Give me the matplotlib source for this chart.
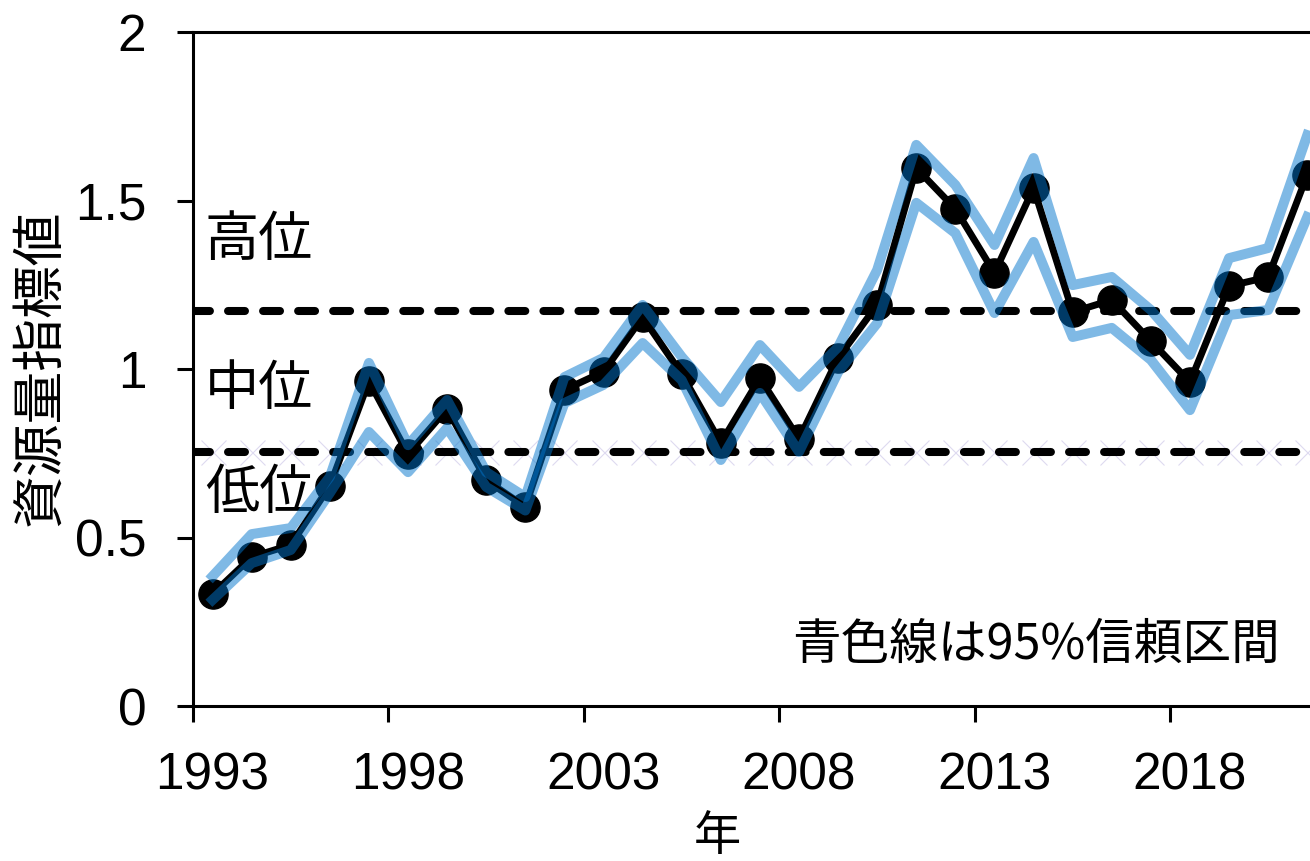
import matplotlib
matplotlib.use("Agg")
import matplotlib.pyplot as plt
from matplotlib.ticker import FixedLocator, NullFormatter

years = list(range(1993, 2022))
index = [0.332, 0.442, 0.478, 0.653, 0.964, 0.748, 0.882, 0.670, 0.591, 0.938,
         0.992, 1.154, 0.985, 0.780, 0.973, 0.792, 1.033, 1.190, 1.596, 1.475,
         1.285, 1.537, 1.169, 1.205, 1.083, 0.961, 1.246, 1.273, 1.576]
upper = [0.385, 0.510, 0.528, 0.680, 1.018, 0.774, 0.908, 0.694, 0.620, 0.976,
         1.033, 1.190, 1.036, 0.902, 1.071, 0.947, 1.065, 1.294, 1.665, 1.546,
         1.368, 1.626, 1.249, 1.273, 1.175, 1.042, 1.329, 1.359, 1.694]
lower = [0.315, 0.424, 0.463, 0.632, 0.813, 0.694, 0.825, 0.650, 0.580, 0.899,
         0.953, 1.077, 0.967, 0.730, 0.929, 0.754, 0.991, 1.136, 1.493, 1.403,
         1.166, 1.377, 1.095, 1.122, 1.027, 0.878, 1.160, 1.175, 1.451]
high_threshold = 1.172
low_threshold = 0.754
ytick_vals = [0, 0.5, 1, 1.5, 2]
ytick_labels = ["0", "0.5", "1", "1.5", "2"]
label_years = [1993, 1998, 2003, 2008, 2013, 2018]

W, H = 1310, 861
fig = plt.figure(figsize=(W / 100, H / 100), dpi=100)
ax = fig.add_axes([193 / W, (H - 706) / H, 1 - 193 / W, 674 / H])

x = list(range(len(years)))
ax.set_xlim(-0.5, 28.07)
ax.set_ylim(0, 2)

# threshold lines
for yv in (high_threshold, low_threshold):
    ax.plot([-0.5, 40], [yv, yv], color="black", lw=5.8, dashes=(2.1, 2.25),
            dash_capstyle="round", zorder=2, clip_on=True)
ax.plot(x, [low_threshold] * len(x), linestyle="none", marker="x", ms=18,
        mew=0.8, color="#c9c2e6", alpha=0.6, zorder=1)

ax.plot(x, index, color="black", lw=5.0, marker="o", ms=21, zorder=3)
ax.plot(x, upper, color="#0074CC", alpha=0.5, lw=7.2, zorder=4)
ax.plot(x, lower, color="#0074CC", alpha=0.5, lw=7.2, zorder=4)

num_font = ["Liberation Sans", "Noto Sans CJK JP"]
jp_font = ["Noto Sans CJK JP", "Liberation Sans"]

# spines
for s in ("left", "bottom", "top"):
    ax.spines[s].set_linewidth(2.2)
ax.spines["right"].set_visible(False)

ax.set_yticks(ytick_vals)
ax.set_yticklabels(ytick_labels, fontfamily=num_font, fontsize=37)
ax.tick_params(axis="y", direction="out", length=11.5, width=2.2, pad=22)

ax.xaxis.set_major_locator(FixedLocator([v - 0.5 for v in range(0, 30, 5)]))
ax.xaxis.set_major_formatter(NullFormatter())
ax.set_xticks([y - 1993 for y in label_years], minor=True)
ax.set_xticklabels([str(y) for y in label_years], minor=True,
                   fontfamily=num_font, fontsize=37)
ax.tick_params(axis="x", which="major", direction="out", length=11.5, width=2.2)
ax.tick_params(axis="x", which="minor", length=0, pad=33)

ax.text(-0.2, 1.38, "高位", fontfamily=jp_font, fontsize=39, va="center", ha="left")
ax.text(-0.2, 0.94, "中位", fontfamily=jp_font, fontsize=39, va="center", ha="left")
ax.text(-0.2, 0.63, "低位", fontfamily=jp_font, fontsize=39, va="center", ha="left")

fig.text(1280 / W, 1 - 645 / H, "青色線は95%信頼区間", fontfamily=jp_font,
         fontsize=35, va="center", ha="right")
fig.text(40 / W, 1 - 368 / H, "資源量指標値", fontfamily=jp_font, fontsize=38,
         rotation=90, va="center", ha="center")
fig.text(717 / W, 1 - 837 / H, "年", fontfamily=jp_font, fontsize=34,
         va="center", ha="center")

fig.savefig("out.png", dpi=100)
